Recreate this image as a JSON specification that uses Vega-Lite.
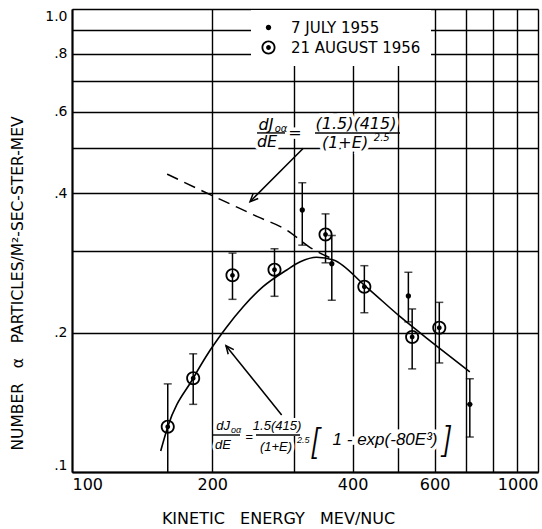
{
  "$schema": "https://vega.github.io/schema/vega-lite/v6.json",
  "width": 466,
  "height": 463,
  "autosize": {"type": "none"},
  "padding": {"left": 72, "top": 9, "right": 4, "bottom": 57},
  "background": "white",
  "config": {"view": {"stroke": null}, "font": "DejaVu Sans"},
  "datasets": {
    "pts": [
      {"series": "21 AUGUST 1956", "E": 160.5, "v": 0.1253, "lo": 0.099, "hi": 0.155},
      {"series": "21 AUGUST 1956", "E": 182, "v": 0.1594, "lo": 0.140, "hi": 0.180},
      {"series": "21 AUGUST 1956", "E": 221, "v": 0.266, "lo": 0.236, "hi": 0.297},
      {"series": "21 AUGUST 1956", "E": 272, "v": 0.2735, "lo": 0.2396, "hi": 0.3035},
      {"series": "21 AUGUST 1956", "E": 350, "v": 0.326, "lo": 0.283, "hi": 0.361},
      {"series": "21 AUGUST 1956", "E": 424, "v": 0.2513, "lo": 0.2208, "hi": 0.279},
      {"series": "21 AUGUST 1956", "E": 537, "v": 0.1957, "lo": 0.167, "hi": 0.225},
      {"series": "21 AUGUST 1956", "E": 614, "v": 0.205, "lo": 0.172, "hi": 0.2325},
      {"series": "7 JULY 1955", "E": 312, "v": 0.368, "lo": 0.309, "hi": 0.4215},
      {"series": "7 JULY 1955", "E": 361, "v": 0.2818, "lo": 0.235, "hi": 0.324},
      {"series": "7 JULY 1955", "E": 527, "v": 0.24, "lo": 0.211, "hi": 0.27},
      {"series": "7 JULY 1955", "E": 714, "v": 0.140, "lo": 0.119, "hi": 0.159}
    ],
    "fit": [
      {"E": 155, "v": 0.111},
      {"E": 160.5, "v": 0.1253},
      {"E": 182, "v": 0.1594},
      {"E": 198, "v": 0.1834},
      {"E": 215, "v": 0.206},
      {"E": 233, "v": 0.2275},
      {"E": 257, "v": 0.2513},
      {"E": 289, "v": 0.2731},
      {"E": 309, "v": 0.2845},
      {"E": 335, "v": 0.2909},
      {"E": 364, "v": 0.287},
      {"E": 429, "v": 0.2505},
      {"E": 506, "v": 0.2165},
      {"E": 596, "v": 0.1897},
      {"E": 714, "v": 0.1646}
    ],
    "simple": [
      {"E": 160, "v": 0.44},
      {"E": 190, "v": 0.405},
      {"E": 220, "v": 0.378},
      {"E": 250, "v": 0.356},
      {"E": 289, "v": 0.333},
      {"E": 325, "v": 0.305},
      {"E": 364, "v": 0.288}
    ],
    "arrows": [
      {"id": "upper", "E1": 313.6, "v1": 0.5002, "E2": 241, "v2": 0.3836},
      {"id": "lower", "E1": 281.8, "v1": 0.1328, "E2": 214, "v2": 0.1874}
    ],
    "bars": [
      {"E1": 249.5, "E2": 286.5, "v": 0.5399},
      {"E1": 332.3, "E2": 505.7, "v": 0.5399},
      {"E1": 200.7, "E2": 229.4, "v": 0.1202},
      {"E1": 248.2, "E2": 308.6, "v": 0.1202}
    ],
    "txtA": [
      {"t": "dJ", "E": 260.8, "v": 0.5615},
      {"t": "dE", "E": 262.1, "v": 0.515},
      {"t": "=", "E": 301, "v": 0.5399},
      {"t": "(1.5)(415)", "E": 406.8, "v": 0.5645},
      {"t": "(1+E)", "E": 385.4, "v": 0.5123}
    ],
    "txtB": [
      {"t": "oα", "E": 281, "v": 0.5518},
      {"t": "2.5", "E": 462, "v": 0.5265}
    ],
    "txtC": [
      {"t": "dJ", "E": 210.9, "v": 0.1255},
      {"t": "dE", "E": 210.9, "v": 0.1145},
      {"t": "=", "E": 239.8, "v": 0.119},
      {"t": "1.5(415)", "E": 275.4, "v": 0.1255},
      {"t": "(1+E)", "E": 274, "v": 0.1135}
    ],
    "txtD": [
      {"t": "oα", "E": 225, "v": 0.1232},
      {"t": "2.5", "E": 313.5, "v": 0.1173}
    ],
    "txtE": [
      {"t": "[", "E": 332.3, "v": 0.1149},
      {"t": "]", "E": 637.9, "v": 0.1161}
    ],
    "txtF": [
      {"t": "1 - exp(-80E³)", "E": 469.6, "v": 0.1173}
    ]
  },
  "layer": [
    {
      "data": {"name": "pts"},
      "mark": {"type": "rule", "color": "black", "strokeWidth": 1.5, "clip": true},
      "encoding": {
        "x": {
          "field": "E", "type": "quantitative",
          "scale": {"type": "log", "domain": [100, 1000], "nice": false},
          "axis": {
            "values": [100, 200, 300, 400, 500, 600, 700, 800, 900, 1000],
            "labelExpr": "indexof([100, 200, 400, 600, 1000], datum.value) >= 0 ? format(datum.value, 'd') : ''",
            "grid": true, "gridColor": "black", "gridWidth": 1.4, "gridOpacity": 1,
            "ticks": false, "domainColor": "black", "domainWidth": 2,
            "labelFont": "DejaVu Sans", "labelFontSize": 16, "labelColor": "black",
            "labelPadding": 4, "labelFlush": true, "labelOverlap": false,
            "title": "KINETIC\u00a0\u00a0\u00a0ENERGY\u00a0\u00a0\u00a0MEV/NUC",
            "titleFont": "DejaVu Sans", "titleFontSize": 16, "titleFontWeight": "normal", "titleColor": "black",
            "titleX": 206, "titleY": 46, "titleAlign": "center", "titleBaseline": "middle"
          }
        },
        "y": {
          "field": "lo", "type": "quantitative",
          "scale": {"type": "log", "domain": [0.1, 1], "nice": false},
          "axis": {
            "values": [0.1, 0.2, 0.3, 0.4, 0.5, 0.6, 0.7, 0.8, 0.9, 1],
            "labelExpr": "datum.value == 1 ? '1.0' : ((datum.value == 0.1 || datum.value == 0.2 || datum.value == 0.4 || datum.value == 0.6 || datum.value == 0.8) ? replace(format(datum.value, '.1f'), '0.', '.') : '')",
            "grid": true, "gridColor": "black", "gridWidth": 1.4, "gridOpacity": 1,
            "ticks": false, "domainColor": "black", "domainWidth": 2,
            "labelFont": "DejaVu Sans", "labelFontSize": 14, "labelColor": "black",
            "labelPadding": 5, "labelFlush": true, "labelOverlap": false,
            "title": "NUMBER\u00a0\u00a0\u00a0α\u00a0\u00a0\u00a0PARTICLES/M²-SEC-STER-MEV",
            "titleFont": "DejaVu Sans", "titleFontSize": 15.5, "titleFontWeight": "normal", "titleColor": "black",
            "titleX": -55, "titleY": 274, "titleAngle": 270, "titleAlign": "center", "titleBaseline": "middle"
          }
        },
        "y2": {"field": "hi"}
      }
    },
    {
      "data": {"name": "txtA"},
      "mark": {"type": "text", "font": "DejaVu Sans", "fontStyle": "italic", "fontSize": 16, "baseline": "middle", "align": "center", "color": "white", "stroke": "white", "strokeWidth": 7},
      "encoding": {
        "x": {"field": "E", "type": "quantitative", "scale": {"type": "log", "domain": [100, 1000], "nice": false}},
        "y": {"field": "v", "type": "quantitative", "scale": {"type": "log", "domain": [0.1, 1], "nice": false}},
        "text": {"field": "t"}
      }
    },
    {
      "data": {"name": "txtC"},
      "mark": {"type": "text", "font": "Liberation Sans", "fontStyle": "italic", "fontSize": 13, "baseline": "middle", "align": "center", "color": "white", "stroke": "white", "strokeWidth": 6},
      "encoding": {
        "x": {"field": "E", "type": "quantitative", "scale": {"type": "log", "domain": [100, 1000], "nice": false}},
        "y": {"field": "v", "type": "quantitative", "scale": {"type": "log", "domain": [0.1, 1], "nice": false}},
        "text": {"field": "t"}
      }
    },
    {
      "data": {"name": "txtF"},
      "mark": {"type": "text", "font": "Liberation Sans", "fontStyle": "italic", "fontSize": 17, "baseline": "middle", "align": "center", "color": "white", "stroke": "white", "strokeWidth": 7},
      "encoding": {
        "x": {"field": "E", "type": "quantitative", "scale": {"type": "log", "domain": [100, 1000], "nice": false}},
        "y": {"field": "v", "type": "quantitative", "scale": {"type": "log", "domain": [0.1, 1], "nice": false}},
        "text": {"field": "t"}
      }
    },
    {
      "data": {"name": "txtE"},
      "mark": {"type": "text", "font": "Roboto", "fontWeight": 300, "fontStyle": "italic", "fontSize": 34, "baseline": "middle", "align": "center", "color": "white", "stroke": "white", "strokeWidth": 6},
      "encoding": {
        "x": {"field": "E", "type": "quantitative", "scale": {"type": "log", "domain": [100, 1000], "nice": false}},
        "y": {"field": "v", "type": "quantitative", "scale": {"type": "log", "domain": [0.1, 1], "nice": false}},
        "text": {"field": "t"}
      }
    },
    {
      "data": {"name": "simple"},
      "mark": {"type": "line", "color": "black", "strokeWidth": 1.5, "strokeDash": [12, 7], "interpolate": "monotone"},
      "encoding": {
        "x": {"field": "E", "type": "quantitative", "scale": {"type": "log", "domain": [100, 1000], "nice": false}},
        "y": {"field": "v", "type": "quantitative", "scale": {"type": "log", "domain": [0.1, 1], "nice": false}}
      }
    },
    {
      "data": {"name": "fit"},
      "mark": {"type": "line", "color": "black", "strokeWidth": 1.6, "interpolate": "monotone"},
      "encoding": {
        "x": {"field": "E", "type": "quantitative", "scale": {"type": "log", "domain": [100, 1000], "nice": false}},
        "y": {"field": "v", "type": "quantitative", "scale": {"type": "log", "domain": [0.1, 1], "nice": false}}
      }
    },
    {
      "data": {"name": "pts"},
      "mark": {"type": "tick", "orient": "horizontal", "color": "black", "size": 8, "thickness": 1.5, "clip": true},
      "encoding": {
        "x": {"field": "E", "type": "quantitative", "scale": {"type": "log", "domain": [100, 1000], "nice": false}},
        "y": {"field": "lo", "type": "quantitative", "scale": {"type": "log", "domain": [0.1, 1], "nice": false}}
      }
    },
    {
      "data": {"name": "pts"},
      "mark": {"type": "tick", "orient": "horizontal", "color": "black", "size": 8, "thickness": 1.5, "clip": true},
      "encoding": {
        "x": {"field": "E", "type": "quantitative", "scale": {"type": "log", "domain": [100, 1000], "nice": false}},
        "y": {"field": "hi", "type": "quantitative", "scale": {"type": "log", "domain": [0.1, 1], "nice": false}}
      }
    },
    {
      "data": {"name": "pts"},
      "mark": {"type": "point", "filled": true, "color": "black", "opacity": 1, "strokeWidth": 0, "size": 196},
      "encoding": {
        "x": {"field": "E", "type": "quantitative", "scale": {"type": "log", "domain": [100, 1000], "nice": false}},
        "y": {"field": "v", "type": "quantitative", "scale": {"type": "log", "domain": [0.1, 1], "nice": false}},
        "shape": {
          "field": "series", "type": "nominal",
          "scale": {
            "domain": ["7 JULY 1955", "21 AUGUST 1956"],
            "range": [
              "M 0.38 0 A 0.38 0.38 0 1 1 -0.38 0 A 0.38 0.38 0 1 1 0.38 0 Z",
              "M 1 0 A 1 1 0 1 1 -1 0 A 1 1 0 1 1 1 0 Z M 0.74 0 A 0.74 0.74 0 1 0 -0.74 0 A 0.74 0.74 0 1 0 0.74 0 Z M 0.34 0 A 0.34 0.34 0 1 1 -0.34 0 A 0.34 0.34 0 1 1 0.34 0 Z"
            ]
          },
          "legend": {
            "orient": "none", "legendX": 179, "legendY": 1, "direction": "vertical",
            "title": null, "padding": 10, "fillColor": "white", "strokeColor": null,
            "labelFont": "DejaVu Sans", "labelFontSize": 15, "labelColor": "black",
            "labelOffset": 15, "rowPadding": 4,
            "symbolFillColor": "black", "symbolStrokeWidth": 0, "symbolOpacity": 1, "symbolSize": 196
          }
        }
      }
    },
    {
      "data": {"name": "arrows"},
      "mark": {"type": "rule", "color": "black", "strokeWidth": 1.5},
      "encoding": {
        "x": {"field": "E1", "type": "quantitative", "scale": {"type": "log", "domain": [100, 1000], "nice": false}},
        "y": {"field": "v1", "type": "quantitative", "scale": {"type": "log", "domain": [0.1, 1], "nice": false}},
        "x2": {"field": "E2"},
        "y2": {"field": "v2"}
      }
    },
    {
      "data": {"name": "arrows"},
      "transform": [{"filter": "datum.id == 'upper'"}],
      "mark": {"type": "point", "shape": "M -0.45 1 L 0 0 L 0.45 1", "filled": false, "color": "black", "strokeWidth": 1.5, "opacity": 1, "size": 256, "angle": 225},
      "encoding": {
        "x": {"field": "E2", "type": "quantitative", "scale": {"type": "log", "domain": [100, 1000], "nice": false}},
        "y": {"field": "v2", "type": "quantitative", "scale": {"type": "log", "domain": [0.1, 1], "nice": false}}
      }
    },
    {
      "data": {"name": "arrows"},
      "transform": [{"filter": "datum.id == 'lower'"}],
      "mark": {"type": "point", "shape": "M -0.45 1 L 0 0 L 0.45 1", "filled": false, "color": "black", "strokeWidth": 1.5, "opacity": 1, "size": 256, "angle": 321},
      "encoding": {
        "x": {"field": "E2", "type": "quantitative", "scale": {"type": "log", "domain": [100, 1000], "nice": false}},
        "y": {"field": "v2", "type": "quantitative", "scale": {"type": "log", "domain": [0.1, 1], "nice": false}}
      }
    },
    {
      "data": {"name": "bars"},
      "mark": {"type": "rule", "color": "black", "strokeWidth": 1.4},
      "encoding": {
        "x": {"field": "E1", "type": "quantitative", "scale": {"type": "log", "domain": [100, 1000], "nice": false}},
        "x2": {"field": "E2"},
        "y": {"field": "v", "type": "quantitative", "scale": {"type": "log", "domain": [0.1, 1], "nice": false}}
      }
    },
    {
      "data": {"name": "txtA"},
      "mark": {"type": "text", "font": "DejaVu Sans", "fontStyle": "italic", "fontSize": 16, "baseline": "middle", "align": "center", "color": "black"},
      "encoding": {
        "x": {"field": "E", "type": "quantitative", "scale": {"type": "log", "domain": [100, 1000], "nice": false}},
        "y": {"field": "v", "type": "quantitative", "scale": {"type": "log", "domain": [0.1, 1], "nice": false}},
        "text": {"field": "t"}
      }
    },
    {
      "data": {"name": "txtB"},
      "mark": {"type": "text", "font": "DejaVu Sans", "fontStyle": "italic", "fontSize": 10, "baseline": "middle", "align": "center", "color": "black"},
      "encoding": {
        "x": {"field": "E", "type": "quantitative", "scale": {"type": "log", "domain": [100, 1000], "nice": false}},
        "y": {"field": "v", "type": "quantitative", "scale": {"type": "log", "domain": [0.1, 1], "nice": false}},
        "text": {"field": "t"}
      }
    },
    {
      "data": {"name": "txtC"},
      "mark": {"type": "text", "font": "Liberation Sans", "fontStyle": "italic", "fontSize": 13, "baseline": "middle", "align": "center", "color": "black"},
      "encoding": {
        "x": {"field": "E", "type": "quantitative", "scale": {"type": "log", "domain": [100, 1000], "nice": false}},
        "y": {"field": "v", "type": "quantitative", "scale": {"type": "log", "domain": [0.1, 1], "nice": false}},
        "text": {"field": "t"}
      }
    },
    {
      "data": {"name": "txtD"},
      "mark": {"type": "text", "font": "Liberation Sans", "fontStyle": "italic", "fontSize": 9, "baseline": "middle", "align": "center", "color": "black"},
      "encoding": {
        "x": {"field": "E", "type": "quantitative", "scale": {"type": "log", "domain": [100, 1000], "nice": false}},
        "y": {"field": "v", "type": "quantitative", "scale": {"type": "log", "domain": [0.1, 1], "nice": false}},
        "text": {"field": "t"}
      }
    },
    {
      "data": {"name": "txtE"},
      "mark": {"type": "text", "font": "Roboto", "fontWeight": 300, "fontStyle": "italic", "fontSize": 34, "baseline": "middle", "align": "center", "color": "black"},
      "encoding": {
        "x": {"field": "E", "type": "quantitative", "scale": {"type": "log", "domain": [100, 1000], "nice": false}},
        "y": {"field": "v", "type": "quantitative", "scale": {"type": "log", "domain": [0.1, 1], "nice": false}},
        "text": {"field": "t"}
      }
    },
    {
      "data": {"name": "txtF"},
      "mark": {"type": "text", "font": "Liberation Sans", "fontStyle": "italic", "fontSize": 17, "baseline": "middle", "align": "center", "color": "black"},
      "encoding": {
        "x": {"field": "E", "type": "quantitative", "scale": {"type": "log", "domain": [100, 1000], "nice": false}},
        "y": {"field": "v", "type": "quantitative", "scale": {"type": "log", "domain": [0.1, 1], "nice": false}},
        "text": {"field": "t"}
      }
    }
  ]
}
